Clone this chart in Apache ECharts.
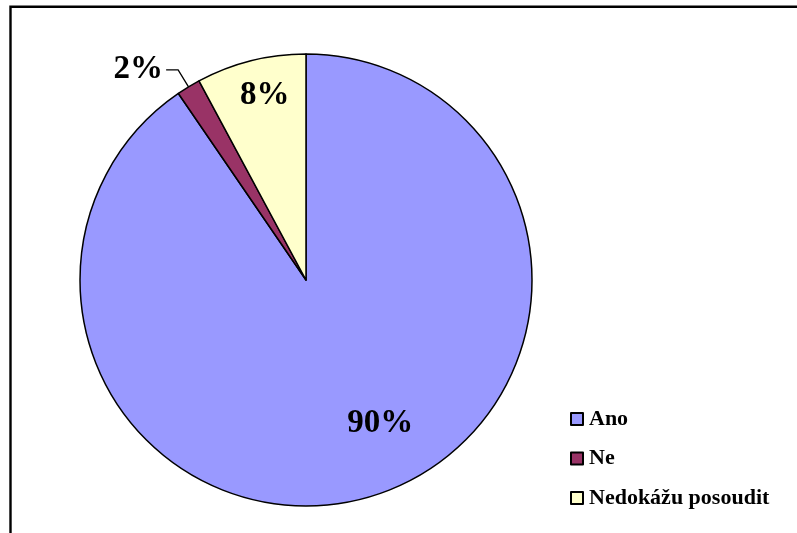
<!DOCTYPE html>
<html><head><meta charset="utf-8">
<script src="https://cdn.jsdelivr.net/npm/echarts@6/dist/echarts.min.js"></script>
<style>html,body{margin:0;padding:0;background:#fff}#c{width:797px;height:533px}</style>
</head><body><div id="c"></div>
<script>
const categories = ['Ano', 'Ne', 'Nedokážu posoudit'];
const values = [90.45, 1.7, 7.85];
const colors = ['#9999FF', '#993366', '#FFFFCC'];

const chart = echarts.init(document.getElementById('c'), null, {renderer: 'canvas'});
const serif = '"Liberation Serif", "Times New Roman", serif';
const labelCfg = [
  {position: 'inside', offset: [40, 33]},
  {position: 'outside', distanceToLabelLine: 3},
  {position: 'inside', offset: [-13, -72]}
];
chart.setOption({
  animation: false,
  backgroundColor: '#fff',
  graphic: [{
    type: 'rect', shape: {x: 10.5, y: 6.7, width: 820, height: 560},
    style: {fill: 'none', stroke: '#000', lineWidth: 2.4}, silent: true
  }],
  legend: {
    orient: 'vertical', left: 565, top: 403,
    itemWidth: 12, itemHeight: 12, itemGap: 17.5,
    icon: 'rect',
    textStyle: {fontFamily: serif, fontWeight: 'bold', fontSize: 22, color: '#000', lineHeight: 22, padding: [0, 0, 0, 1]},
    data: categories
  },
  series: [{
    type: 'pie',
    center: [306, 280],
    radius: 226,
    startAngle: 90,
    clockwise: true,
    avoidLabelOverlap: false,
    itemStyle: {borderColor: '#000', borderWidth: 1.5},
    label: {
      fontFamily: serif, fontWeight: 'bold', fontSize: 33, color: '#000',
      formatter: p => Math.round(p.value) + '%'
    },
    labelLine: {show: true, length: 20, length2: 12, lineStyle: {color: '#000', width: 1.3}},
    data: categories.map((c, i) => ({
      name: c, value: values[i],
      itemStyle: {color: colors[i]},
      label: labelCfg[i],
      labelLine: {show: i === 1}
    }))
  }]
});
</script></body></html>
